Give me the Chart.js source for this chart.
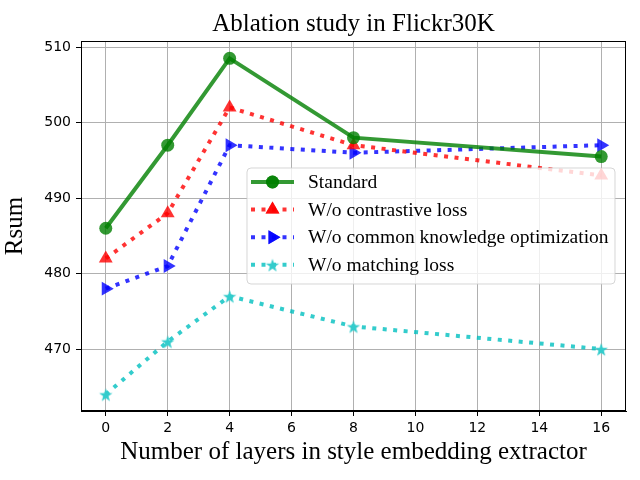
<!DOCTYPE html>
<html>
<head>
<meta charset="utf-8">
<script src="https://cdn.jsdelivr.net/npm/chart.js@4.4.0/dist/chart.umd.min.js"></script>
<style>
  html, body { margin: 0; padding: 0; background: #fff; }
  #wrap { width: 640px; height: 480px; }
</style>
</head>
<body>
<div id="wrap"><canvas id="ablation"></canvas></div>
<script>
// data
const layers = [0, 2, 4, 8, 16];
const standard = [486, 497, 508.5, 498, 495.5];
const noContrastive = [482, 488, 502, 497, 493];
const noCommon = [478, 481, 497, 496, 497];
const noMatching = [464, 471, 477, 473, 470];
const seriesNames = ["Standard", "W/o contrastive loss", "W/o common knowledge optimization", "W/o matching loss"];
const xTicks = [0, 2, 4, 6, 8, 10, 12, 14, 16];
const yTicks = [470, 480, 490, 500, 510];
const chartTitle = "Ablation study in Flickr30K";

const serif = "'Liberation Serif', 'Times New Roman', serif";
const sans = "'DejaVu Sans', sans-serif";

function pts(vals) {
    return vals.map(function (v, i) { return { x: layers[i], y: v }; });
}

// filled five point star for the last series
function makeStar(color, r) {
    const c = document.createElement("canvas");
    const s = Math.ceil(r * 2 + 2);
    c.width = s; c.height = s;
    const g = c.getContext("2d");
    g.fillStyle = color;
    g.beginPath();
    for (let i = 0; i < 10; i++) {
        const rad = i % 2 === 0 ? r : r * 0.4;
        const a = -Math.PI / 2 + i * Math.PI / 5;
        const px = s / 2 + rad * Math.cos(a), py = s / 2 + 1 + rad * Math.sin(a);
        if (i === 0) g.moveTo(px, py); else g.lineTo(px, py);
    }
    g.closePath();
    g.fill();
    return c;
}
const starImg = makeStar("rgba(51,204,204,1)", 7);

// frame, title over the axes, and the boxed legend inside the plot
const frameAndLegend = {
    id: "frameAndLegend",
    afterDatasetsDraw: function (chart) {
        const ctx = chart.ctx, a = chart.chartArea;
        ctx.save();
        ctx.strokeStyle = "#000";
        ctx.lineWidth = 1;
        ctx.strokeRect(a.left + 0.5, a.top + 0.5, a.right - a.left - 1, a.bottom - a.top - 1);

        ctx.fillStyle = "#000";
        ctx.font = "25px " + serif;
        ctx.textAlign = "center";
        ctx.textBaseline = "middle";
        ctx.fillText(chartTitle, (a.left + a.right) / 2, 24);
        ctx.textAlign = "left";

        const bx = 247, by = 168, bw = 368, bh = 116, r = 4;
        ctx.beginPath();
        ctx.moveTo(bx + r, by);
        ctx.arcTo(bx + bw, by, bx + bw, by + bh, r);
        ctx.arcTo(bx + bw, by + bh, bx, by + bh, r);
        ctx.arcTo(bx, by + bh, bx, by, r);
        ctx.arcTo(bx, by, bx + bw, by, r);
        ctx.closePath();
        ctx.fillStyle = "rgba(255,255,255,0.8)";
        ctx.fill();
        ctx.strokeStyle = "rgba(204,204,204,0.8)";
        ctx.stroke();

        chart.data.datasets.forEach(function (ds, i) {
            const cy = 182 + i * 27.6;
            ctx.strokeStyle = ds.borderColor;
            ctx.lineWidth = ds.borderWidth;
            ctx.lineCap = "butt";
            ctx.setLineDash(ds.borderDash || []);
            ctx.beginPath();
            ctx.moveTo(251, cy);
            ctx.lineTo(294, cy);
            ctx.stroke();
            ctx.setLineDash([]);
            const style = ds.pointStyle;
            if (style instanceof HTMLCanvasElement) {
                ctx.drawImage(style, 272.5 - style.width / 2, cy - style.height / 2);
            } else {
                ctx.fillStyle = ds.pointBackgroundColor;
                Chart.helpers.drawPoint(ctx, {
                    pointStyle: style, radius: ds.pointRadius, rotation: ds.pointRotation || 0, borderWidth: 0
                }, 272.5, cy);
                ctx.fill();
            }
            ctx.fillStyle = "#000";
            ctx.font = "19.5px " + serif;
            ctx.textBaseline = "middle";
            ctx.fillText(ds.label, 308, cy + 1);
        });
        ctx.restore();
    }
};

const ctx = document.getElementById("ablation").getContext("2d");
new Chart(ctx, {
    type: "line",
    data: {
        datasets: [{
            label: seriesNames[0],
            data: pts(standard),
            borderColor: "rgba(0,128,0,0.8)",
            backgroundColor: "rgba(0,128,0,0.8)",
            pointBackgroundColor: "rgba(0,128,0,0.8)",
            borderWidth: 4,
            pointStyle: "circle",
            pointRadius: 6.5,
            pointBorderWidth: 0
        }, {
            label: seriesNames[1],
            data: pts(noContrastive),
            borderColor: "rgba(255,0,0,0.8)",
            backgroundColor: "rgba(255,0,0,0.8)",
            pointBackgroundColor: "rgba(255,0,0,0.8)",
            borderWidth: 4,
            borderDash: [4, 6.5],
            pointStyle: "triangle",
            pointRadius: 8,
            pointBorderWidth: 0
        }, {
            label: seriesNames[2],
            data: pts(noCommon),
            borderColor: "rgba(0,0,255,0.8)",
            backgroundColor: "rgba(0,0,255,0.8)",
            pointBackgroundColor: "rgba(0,0,255,0.8)",
            borderWidth: 4,
            borderDash: [4, 6.5],
            pointStyle: "triangle",
            pointRotation: 90,
            pointRadius: 8,
            pointBorderWidth: 0
        }, {
            label: seriesNames[3],
            data: pts(noMatching),
            borderColor: "rgba(0,191,191,0.8)",
            backgroundColor: "rgba(0,191,191,0.8)",
            pointBackgroundColor: "rgba(0,191,191,0.8)",
            borderWidth: 4,
            borderDash: [4, 6.5],
            pointStyle: starImg,
            pointRadius: 7,
            pointBorderWidth: 0
        }]
    },
    options: {
        responsive: true,
        maintainAspectRatio: false,
        animation: false,
        events: [],
        layout: { padding: { left: 0, right: 14, top: 41, bottom: 0 } },
        elements: { line: { tension: 0, borderCapStyle: "butt" } },
        plugins: {
            legend: { display: false },
            tooltip: { enabled: false },
            title: { display: false }
        },
        scales: {
            x: {
                type: "linear",
                min: -0.8,
                max: 16.8,
                afterBuildTicks: function (s) { s.ticks = xTicks.map(function (v) { return { value: v }; }); },
                afterFit: function (s) { s.height = 69; },
                grid: { color: "#b0b0b0", lineWidth: 1, tickColor: "#000", tickLength: 5 },
                border: { color: "#000", width: 1 },
                ticks: { color: "#000", font: { family: sans, size: 14 }, padding: 4, maxRotation: 0 },
                title: {
                    display: true,
                    text: "Number of layers in style embedding extractor",
                    color: "#000",
                    font: { family: serif, size: 25 },
                    padding: { top: 0, bottom: 13 }
                }
            },
            y: {
                min: 461.8,
                max: 510.8,
                afterBuildTicks: function (s) { s.ticks = yTicks.map(function (v) { return { value: v }; }); },
                afterFit: function (s) { s.width = 81; },
                grid: { color: "#b0b0b0", lineWidth: 1, tickColor: "#000", tickLength: 5 },
                border: { color: "#000", width: 1 },
                ticks: { color: "#000", font: { family: sans, size: 14 }, padding: 5 },
                title: {
                    display: true,
                    text: "Rsum",
                    color: "#000",
                    font: { family: serif, size: 25 },
                    padding: { top: 0, bottom: 12 }
                }
            }
        }
    },
    plugins: [frameAndLegend]
});
</script>
</body>
</html>
